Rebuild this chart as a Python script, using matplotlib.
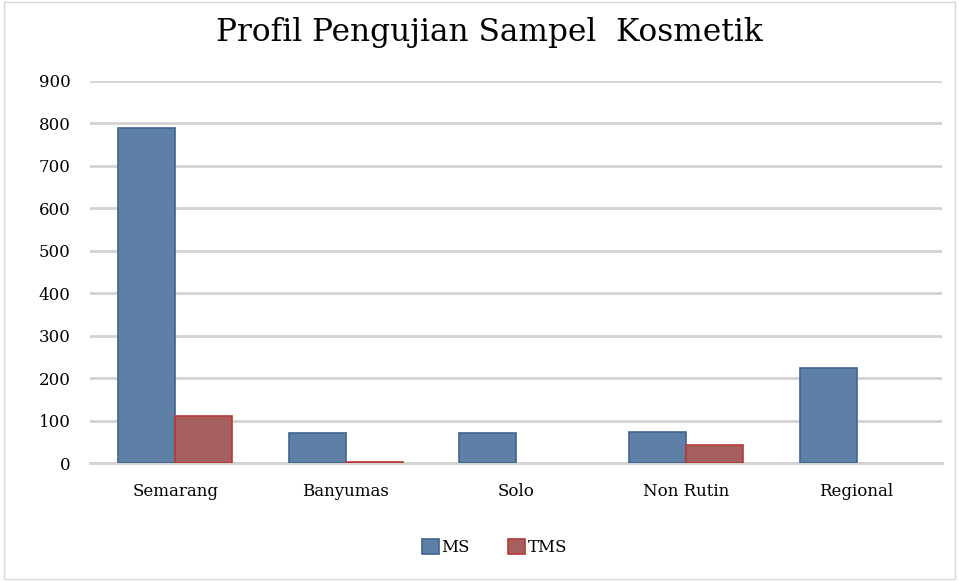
import matplotlib.pyplot as plt
import numpy as np

# Data
categories = ["Semarang", "Banyumas", "Solo", "Non Rutin", "Regional"]
ms_values = [790, 70, 70, 73, 224]
tms_values = [111, 2, 0, 42, 0]
series_names = ["MS", "TMS"]
title = "Profil Pengujian Sampel  Kosmetik"
yticks = list(range(0, 1000, 100))

plt.rcParams["font.family"] = ["DejaVu Serif"]

fig = plt.figure(figsize=(9.59, 5.81), dpi=100)
ax = fig.add_axes([0.094, 0.203, 0.888, 0.6576])

x = np.arange(len(categories))
w = 0.335
# no outline on empty bars
ms_lw = [1.2 if v > 0 else 0 for v in ms_values]
tms_lw = [1.2 if v > 0 else 0 for v in tms_values]
ax.bar(x - w / 2, ms_values, w, color="#5E7FA6", edgecolor="#3E6590", linewidth=ms_lw,
       label=series_names[0], zorder=3)
ax.bar(x + w / 2, tms_values, w, color="#A5605E", edgecolor="#B53A36", linewidth=tms_lw,
       label=series_names[1], zorder=3)

ax.set_xlim(-0.5, len(categories) - 0.5)
ax.set_ylim(0, 900)
ax.set_yticks(yticks)
ax.set_xticks(x)
ax.set_xticklabels(categories, fontsize=12)
ax.tick_params(axis="y", labelsize=12, length=0, pad=14)
ax.tick_params(axis="x", length=0, pad=14)
ax.grid(axis="y", color="#D3D3D3", linewidth=2, zorder=0)
for s in ["left", "right", "top"]:
    ax.spines[s].set_visible(False)
ax.spines["bottom"].set_color("#D3D3D3")
ax.spines["bottom"].set_linewidth(2)

fig.suptitle(title, fontsize=22.5, x=0.51, y=0.97)

ax.legend(loc="upper center", bbox_to_anchor=(0.475, -0.16), ncol=2, frameon=False,
          fontsize=12, handlelength=1.0, handleheight=1.0, handletextpad=0.15,
          columnspacing=2.3)

fig.patches.append(plt.Rectangle((0.004, 0.004), 0.992, 0.992, transform=fig.transFigure,
                                 fill=False, edgecolor="#D9D9D9", linewidth=1))

fig.savefig("out.png", dpi=100)
